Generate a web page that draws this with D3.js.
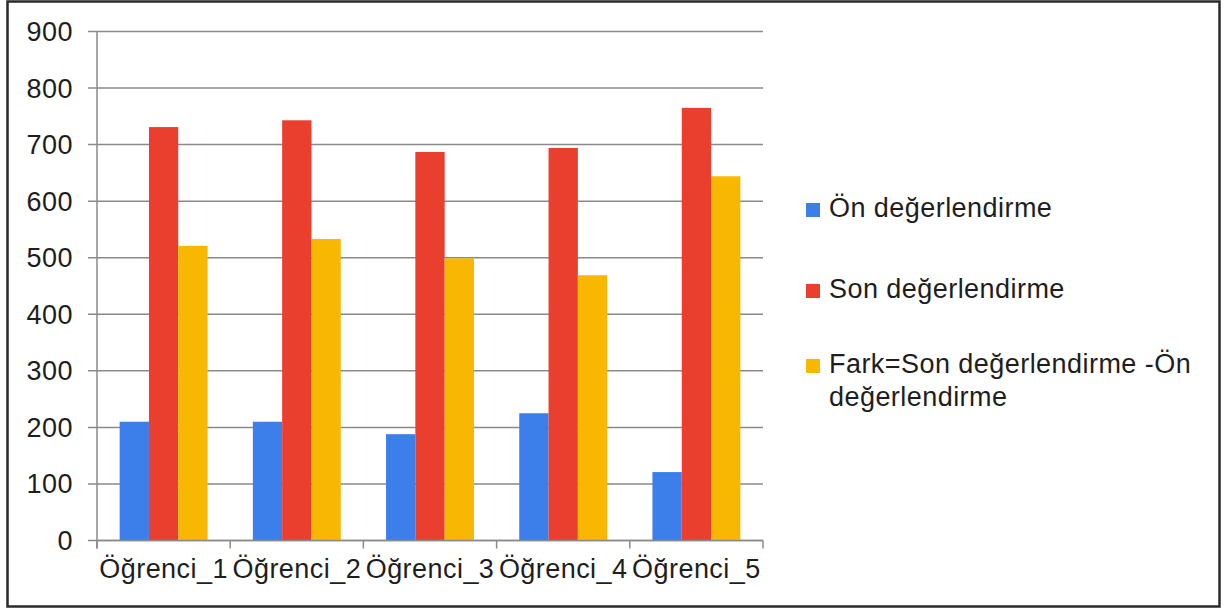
<!DOCTYPE html>
<html>
<head>
<meta charset="utf-8">
<script src="https://cdn.jsdelivr.net/npm/d3@7"></script>
<style>
  html, body { margin: 0; padding: 0; background: #fff; }
  svg { display: block; }
  text { font-family: "Liberation Sans", Arial, sans-serif; fill: #1e1e1e; letter-spacing: 0.45px; }
</style>
</head>
<body>
<script>
// Student scores: pre-assessment, post-assessment and their difference
const categories = ["Öğrenci_1", "Öğrenci_2", "Öğrenci_3", "Öğrenci_4", "Öğrenci_5"];
const seriesNames = ["Ön değerlendirme", "Son değerlendirme", "Fark=Son değerlendirme -Ön değerlendirme"];
const onValues   = [210, 210, 188, 225, 121];
const sonValues  = [731, 743, 687, 694, 765];
const farkValues = [521, 533, 499, 469, 644];
const yTicks = [0, 100, 200, 300, 400, 500, 600, 700, 800, 900];
const colors = ["#3d7fea", "#ea3f2e", "#f8b700"];

const W = 1226, H = 609;
const plot = { left: 97, right: 763, top: 31.5, bottom: 540.5 };

const svg = d3.select("body").append("svg").attr("width", W).attr("height", H);

// Outer frame
svg.append("rect")
  .attr("x", 7.5).attr("y", 1.5).attr("width", 1212).attr("height", 605)
  .attr("fill", "#fff").attr("stroke", "#2a2a2a").attr("stroke-width", 2.5);

const y = d3.scaleLinear().domain([0, 900]).range([plot.bottom, plot.top]);
const x0 = d3.scaleBand().domain(categories).range([plot.left, plot.right])
  .paddingInner(0.34).paddingOuter(0.17);
const x1 = d3.scaleBand().domain(d3.range(seriesNames.length)).range([0, x0.bandwidth()]);

// Horizontal gridlines with short ticks on the left
const grid = svg.append("g");
grid.selectAll("line").data(yTicks).join("line")
  .attr("x1", plot.left - 9).attr("x2", plot.right)
  .attr("y1", d => y(d)).attr("y2", d => y(d))
  .attr("stroke", "#8a8a8a").attr("stroke-width", 1.5);

// Y axis labels
svg.append("g").selectAll("text").data(yTicks).join("text")
  .attr("x", 73).attr("y", d => y(d)).attr("dy", "0.35em")
  .attr("text-anchor", "end").attr("font-size", 27)
  .text(d => d);

// Bars
const table = categories.map((c, i) => ({ cat: c, vals: [onValues[i], sonValues[i], farkValues[i]] }));
const groups = svg.append("g").selectAll("g").data(table).join("g")
  .attr("transform", d => `translate(${x0(d.cat)},0)`);
groups.selectAll("rect").data(d => d.vals.map((v, k) => ({ v, k }))).join("rect")
  .attr("x", d => x1(d.k)).attr("width", x1.bandwidth())
  .attr("y", d => y(d.v)).attr("height", d => y(0) - y(d.v))
  .attr("fill", d => colors[d.k]);

// Axis lines
svg.append("line").attr("x1", plot.left).attr("x2", plot.left)
  .attr("y1", plot.top).attr("y2", plot.bottom + 8)
  .attr("stroke", "#8a8a8a").attr("stroke-width", 1.5);
svg.append("line").attr("x1", plot.left).attr("x2", plot.right)
  .attr("y1", plot.bottom).attr("y2", plot.bottom)
  .attr("stroke", "#8a8a8a").attr("stroke-width", 1.5);

// Category boundary ticks below the axis
const step = x0.step();
const boundaries = d3.range(categories.length + 1).map(i => plot.left + i * step);
svg.append("g").selectAll("line").data(boundaries).join("line")
  .attr("x1", d => d).attr("x2", d => d)
  .attr("y1", plot.bottom).attr("y2", plot.bottom + 8)
  .attr("stroke", "#8a8a8a").attr("stroke-width", 1.5);

// Category labels
svg.append("g").selectAll("text").data(categories).join("text")
  .attr("x", d => x0(d) + x0.bandwidth() / 2).attr("y", 578)
  .attr("text-anchor", "middle").attr("font-size", 27)
  .text(d => d);

// Legend
const legendX = 806, legendBaselines = [217, 298, 373], lineGap = 33, maxW = 385;
const legend = svg.append("g");
seriesNames.forEach((name, i) => {
  legend.append("rect")
    .attr("x", legendX).attr("y", legendBaselines[i] - 14)
    .attr("width", 14).attr("height", 14).attr("fill", colors[i]);
  const t = legend.append("text").attr("x", legendX + 23).attr("y", legendBaselines[i])
    .attr("font-size", 27);
  // Word wrap the label into lines
  const words = name.split(" ");
  let line = [];
  let tspan = t.append("tspan").attr("x", legendX + 23).attr("dy", 0);
  words.forEach(w => {
    line.push(w);
    tspan.text(line.join(" "));
    if (tspan.node().getComputedTextLength() > maxW && line.length > 1) {
      line.pop();
      tspan.text(line.join(" "));
      line = [w];
      tspan = t.append("tspan").attr("x", legendX + 23).attr("dy", lineGap).text(w);
    }
  });
});
</script>
</body>
</html>
